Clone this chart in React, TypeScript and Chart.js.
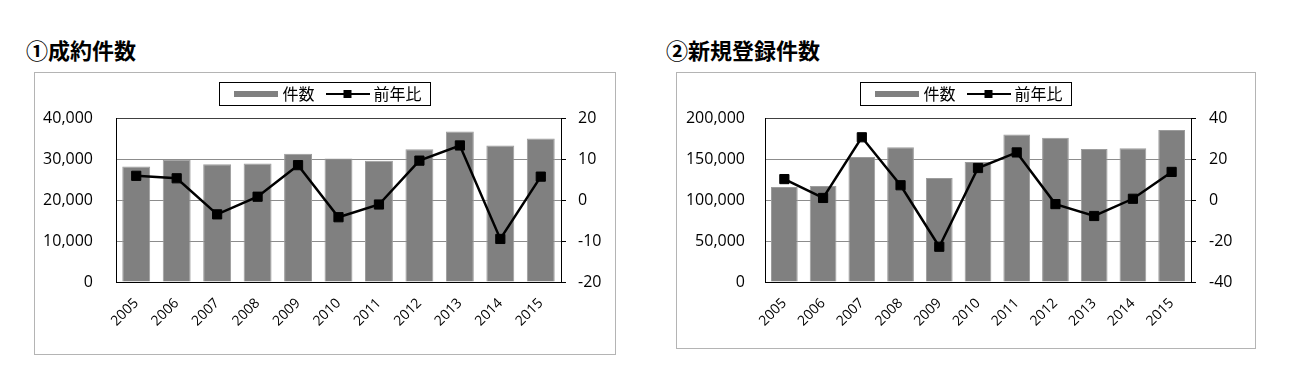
import React, { useEffect, useRef } from 'react';
import { Chart, registerables } from 'chart.js';

Chart.register(...registerables);

// ---- data ----
const years = ['2005', '2006', '2007', '2008', '2009', '2010', '2011', '2012', '2013', '2014', '2015'];
const contractCounts = [28200, 29800, 28700, 28900, 31300, 30100, 29600, 32400, 36700, 33300, 35000];
const contractYoY = [5.9, 5.3, -3.5, 0.8, 8.5, -4.2, -1.1, 9.6, 13.3, -9.5, 5.7];
const newListingCounts = [115800, 117000, 152400, 164200, 126800, 146300, 180000, 176000, 162200, 163000, 185300];
const newListingYoY = [10.2, 1.0, 30.6, 7.2, -22.8, 15.6, 23.2, -2.0, -7.8, 0.6, 13.7];
const contractCountAxis = [0, 40000, 10000];
const contractYoYAxis = [-20, 20, 10];
const newListingCountAxis = [0, 200000, 50000];
const newListingYoYAxis = [-40, 40, 20];
const legendLabels = ['件数', '前年比'];
const titles = ['①成約件数', '②新規登録件数'];

const TICK_FONT = '"Open Sans", "Noto Sans", sans-serif';
const CJK_FONT = '"Noto Sans CJK JP", "Noto Sans CJK SC", sans-serif';

function makeBarImg() {
  const c = document.createElement('canvas');
  c.width = 44;
  c.height = 6;
  const ctx = c.getContext('2d')!;
  ctx.fillStyle = '#808080';
  ctx.fillRect(0, 0, 44, 6);
  return c;
}

function makeLineImg() {
  const c = document.createElement('canvas');
  c.width = 44;
  c.height = 10;
  const ctx = c.getContext('2d')!;
  ctx.strokeStyle = '#000';
  ctx.lineWidth = 2;
  ctx.beginPath();
  ctx.moveTo(0, 5);
  ctx.lineTo(44, 5);
  ctx.stroke();
  ctx.fillStyle = '#000';
  ctx.fillRect(18, 1, 8, 8);
  return c;
}

// fixes the legend block height and nudges its placement
const legendSpacer = {
  id: 'legendSpacer',
  beforeLayout(chart: any, _args: any, opts: any) {
    const lg = chart.legend;
    if (lg && !lg._spacerPatched) {
      lg._spacerPatched = true;
      const origFit = lg.fit;
      lg.fit = function () {
        origFit.call(this);
        this.height = opts.height;
      };
    }
  },
  afterLayout(chart: any, _args: any, opts: any) {
    const lg = chart.legend;
    if (!lg) return;
    lg.left += opts.dx;
    lg.right += opts.dx;
    lg.top += opts.dy;
    lg.bottom += opts.dy;
  },
};

const legendBorder = {
  id: 'legendBorder',
  afterDraw(chart: any) {
    const lg = chart.legend;
    if (!lg || !lg.legendHitBoxes || !lg.legendHitBoxes.length) return;
    const hb = lg.legendHitBoxes;
    const first = hb[0];
    const last = hb[hb.length - 1];
    const l = Math.round(first.left - 19);
    const r = Math.round(last.left + last.width + 8);
    const t = Math.round(first.top - 4);
    const b = Math.round(first.top + first.height + 3);
    const ctx = chart.ctx;
    ctx.save();
    ctx.strokeStyle = '#000';
    ctx.lineWidth = 1;
    ctx.strokeRect(l + 0.5, t + 0.5, r - l, b - t);
    ctx.restore();
  },
};

type PanelProps = {
  title: string;
  counts: number[];
  yoy: number[];
  countAxis: number[];
  yoyAxis: number[];
  boxLeft: number;
  boxTop: number;
  boxWidth: number;
  boxHeight: number;
  titleLeft: number;
  leftAxisWidth: number;
  rightAxisWidth: number;
  xAxisHeight: number;
  leftPad: number;
  rightPad: number;
  legendDx: number;
};

function Panel(p: PanelProps) {
  const ref = useRef<HTMLCanvasElement | null>(null);
  useEffect(() => {
    if (!ref.current) return;
    const barImg = makeBarImg();
    const lineImg = makeLineImg();
    const chart = new Chart(ref.current, {
      type: 'bar',
      data: {
        labels: years,
        datasets: [
          {
            type: 'line',
            label: legendLabels[1],
            data: p.yoy,
            yAxisID: 'y2',
            borderColor: '#000',
            backgroundColor: '#000',
            borderWidth: 2.5,
            pointStyle: 'rect',
            pointRadius: 6.5,
            pointBackgroundColor: '#000',
            pointBorderColor: '#000',
            pointBorderWidth: 1,
            tension: 0,
            order: 0,
          } as any,
          {
            type: 'bar',
            label: legendLabels[0],
            data: p.counts,
            yAxisID: 'y',
            backgroundColor: '#808080',
            borderColor: '#9c9c9c',
            borderWidth: 1,
            categoryPercentage: 1,
            barPercentage: 0.69,
            order: 1,
          } as any,
        ],
      },
      options: {
        responsive: false,
        animation: false,
        devicePixelRatio: 1,
        layout: { padding: { top: 0, left: 0, right: 0, bottom: 0 } },
        plugins: {
          tooltip: { enabled: false },
          legendSpacer: { height: 45, dx: p.legendDx, dy: -2 },
          legend: {
            display: true,
            position: 'top',
            labels: {
              usePointStyle: true,
              pointStyleWidth: 36,
              boxHeight: 10,
              padding: 15,
              color: '#000',
              font: { family: CJK_FONT, size: 16 },
              generateLabels: () => [
                { text: legendLabels[0], pointStyle: barImg, datasetIndex: 1, hidden: false, lineWidth: 0, fillStyle: '#808080', strokeStyle: '#808080', fontColor: '#000' } as any,
                { text: legendLabels[1], pointStyle: lineImg, datasetIndex: 0, hidden: false, lineWidth: 0, fillStyle: '#000', strokeStyle: '#000', fontColor: '#000' } as any,
              ],
            },
          },
        },
        scales: {
          x: {
            grid: { display: true, drawOnChartArea: false, drawTicks: false },
            border: { display: true, color: '#000', width: 1 },
            ticks: {
              color: '#000',
              font: { family: TICK_FONT, size: 14 },
              minRotation: 45,
              maxRotation: 45,
              autoSkip: false,
              padding: 13,
            },
            afterFit: (s: any) => {
              s.height = p.xAxisHeight;
            },
          },
          y: {
            position: 'left',
            min: p.countAxis[0],
            max: p.countAxis[1],
            grid: {
              drawTicks: false,
              color: (c: any) => (c.tick && c.tick.value === p.countAxis[1] ? '#404040' : '#8c8c8c'),
              lineWidth: 1,
            },
            border: { display: true, color: '#000', width: 1 },
            ticks: {
              stepSize: p.countAxis[2],
              color: '#000',
              font: { family: TICK_FONT, size: 16 },
              padding: p.leftPad,
              callback: (v: any) => Number(v).toLocaleString('en-US'),
            },
            afterFit: (s: any) => {
              s.width = p.leftAxisWidth;
            },
          },
          y2: {
            position: 'right',
            min: p.yoyAxis[0],
            max: p.yoyAxis[1],
            grid: { drawOnChartArea: false, drawTicks: true, tickLength: 5, color: '#000' },
            border: { display: true, color: '#000', width: 1 },
            ticks: {
              stepSize: p.yoyAxis[2],
              color: '#000',
              font: { family: TICK_FONT, size: 16 },
              padding: p.rightPad,
            },
            afterFit: (s: any) => {
              s.width = p.rightAxisWidth;
            },
          },
        },
      } as any,
      plugins: [legendSpacer, legendBorder],
    });
    return () => chart.destroy();
  }, []);

  return (
    <>
      <div
        style={{
          position: 'absolute',
          left: p.titleLeft,
          top: 37,
          fontFamily: CJK_FONT,
          fontSize: 22,
          fontWeight: 700,
          lineHeight: '24px',
          color: '#000',
          whiteSpace: 'nowrap',
        }}
      >
        {p.title}
      </div>
      <div
        style={{
          position: 'absolute',
          left: p.boxLeft,
          top: p.boxTop,
          width: p.boxWidth,
          height: p.boxHeight,
          boxSizing: 'border-box',
          border: '1px solid #b4b4b4',
          background: '#fff',
        }}
      >
        <canvas
          ref={ref}
          width={p.boxWidth - 2}
          height={p.boxHeight - 2}
          style={{ display: 'block', width: p.boxWidth - 2, height: p.boxHeight - 2 }}
        />
      </div>
    </>
  );
}

export default function App() {
  return (
    <div style={{ position: 'absolute', left: 0, top: 0, width: 1290, height: 370, background: '#fff' }}>
      <Panel
        title={titles[0]}
        counts={contractCounts}
        yoy={contractYoY}
        countAxis={contractCountAxis}
        yoyAxis={contractYoYAxis}
        boxLeft={34}
        boxTop={72}
        boxWidth={582}
        boxHeight={283}
        titleLeft={26}
        leftAxisWidth={81}
        rightAxisWidth={54}
        xAxisHeight={72}
        leftPad={23}
        rightPad={12}
        legendDx={5}
      />
      <Panel
        title={titles[1]}
        counts={newListingCounts}
        yoy={newListingYoY}
        countAxis={newListingCountAxis}
        yoyAxis={newListingYoYAxis}
        boxLeft={676}
        boxTop={72}
        boxWidth={580}
        boxHeight={277}
        titleLeft={666}
        leftAxisWidth={88}
        rightAxisWidth={64}
        xAxisHeight={66}
        leftPad={20}
        rightPad={13}
        legendDx={5}
      />
    </div>
  );
}
